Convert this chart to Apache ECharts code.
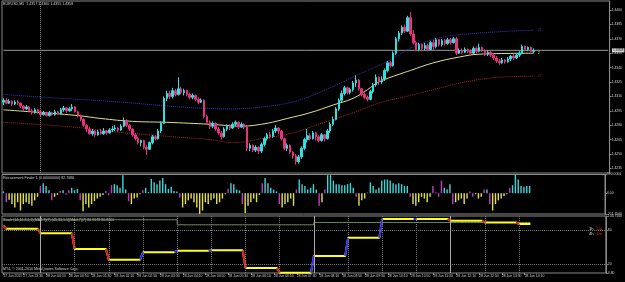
<!DOCTYPE html>
<html>
<head>
<meta charset="utf-8">
<script src="https://cdn.jsdelivr.net/npm/echarts@6/dist/echarts.min.js"></script>
<style>
  html, body { margin: 0; padding: 0; background: #000; }
  #chart { width: 625px; height: 282px; }
</style>
</head>
<body>
<div id="chart"></div>
<script>
const symbol = 'EURUSD,M5'
const slots = 212

// first bar is 27 Jun 22:55, M5 bars
const tickBars = [0, 7, 15, 23, 31, 39, 47, 55, 63, 71, 79, 87, 95, 103, 111, 119, 127, 135, 143, 151, 159, 167, 175, 183]
const tickLabels = ['27 Jun 2011', '27 Jun 23:30', '28 Jun 00:10', '28 Jun 00:50', '28 Jun 01:30', '28 Jun 02:10',
  '28 Jun 02:50', '28 Jun 03:30', '28 Jun 04:10', '28 Jun 04:50', '28 Jun 05:30', '28 Jun 06:10', '28 Jun 06:50',
  '28 Jun 07:30', '28 Jun 08:10', '28 Jun 08:50', '28 Jun 09:30', '28 Jun 10:10', '28 Jun 10:50', '28 Jun 11:30',
  '28 Jun 12:10', '28 Jun 12:50', '28 Jun 13:30', '28 Jun 14:10']
const priceTicks = [1.4235, 1.425, 1.4265, 1.428, 1.4295, 1.431, 1.4325, 1.434, 1.4355, 1.437, 1.4385, 1.44]

// [open, close, low, high]
const candles = [
  [1.4304,1.4306,1.4301,1.4308],[1.4306,1.4303,1.4302,1.4308],[1.4303,1.4305,1.4302,1.4307],[1.4305,1.4302,1.4300,1.4306],
  [1.4302,1.4304,1.4301,1.4306],[1.4304,1.4303,1.4301,1.4306],[1.4303,1.4300,1.4298,1.4304],[1.4300,1.4297,1.4295,1.4301],
  [1.4297,1.4299,1.4296,1.4301],[1.4299,1.4295,1.4294,1.4300],[1.4295,1.4293,1.4291,1.4297],[1.4293,1.4296,1.4292,1.4298],
  [1.4296,1.4294,1.4292,1.4297],[1.4294,1.4291,1.4289,1.4295],[1.4291,1.4293,1.4290,1.4295],[1.4293,1.4290,1.4289,1.4294],
  [1.4290,1.4293,1.4289,1.4295],[1.4293,1.4291,1.4290,1.4294],[1.4291,1.4294,1.4290,1.4296],[1.4294,1.4292,1.4291,1.4295],
  [1.4292,1.4296,1.4291,1.4298],[1.4296,1.4298,1.4294,1.4300],[1.4298,1.4295,1.4293,1.4299],[1.4295,1.4297,1.4294,1.4299],
  [1.4297,1.4299,1.4295,1.4302],[1.4299,1.4294,1.4293,1.4300],[1.4294,1.4290,1.4288,1.4295],[1.4290,1.4286,1.4284,1.4291],
  [1.4286,1.4280,1.4278,1.4287],[1.4280,1.4276,1.4273,1.4281],[1.4276,1.4271,1.4270,1.4278],[1.4271,1.4274,1.4269,1.4276],
  [1.4274,1.4270,1.4268,1.4275],[1.4270,1.4273,1.4269,1.4275],[1.4273,1.4271,1.4270,1.4276],[1.4271,1.4274,1.4270,1.4277],
  [1.4274,1.4272,1.4270,1.4275],[1.4272,1.4275,1.4271,1.4277],[1.4275,1.4276,1.4273,1.4279],[1.4276,1.4277,1.4274,1.4280],
  [1.4277,1.4275,1.4273,1.4278],[1.4275,1.4279,1.4274,1.4281],[1.4279,1.4285,1.4278,1.4288],[1.4285,1.4280,1.4278,1.4286],
  [1.4280,1.4276,1.4274,1.4281],[1.4276,1.4270,1.4268,1.4277],[1.4270,1.4266,1.4264,1.4272],[1.4266,1.4262,1.4260,1.4268],
  [1.4262,1.4264,1.4258,1.4265],[1.4264,1.4257,1.4255,1.4265],[1.4257,1.4255,1.4249,1.4259],[1.4255,1.4262,1.4254,1.4263],
  [1.4262,1.4268,1.4260,1.4270],[1.4268,1.4266,1.4264,1.4270],[1.4266,1.4274,1.4265,1.4276],[1.4274,1.4282,1.4272,1.4284],
  [1.4282,1.4308,1.4281,1.4310],[1.4308,1.4313,1.4305,1.4316],[1.4313,1.4310,1.4307,1.4316],[1.4310,1.4316,1.4308,1.4319],
  [1.4316,1.4312,1.4310,1.4318],[1.4312,1.4318,1.4311,1.4330],[1.4318,1.4314,1.4312,1.4320],[1.4314,1.4316,1.4311,1.4318],
  [1.4316,1.4312,1.4310,1.4317],[1.4312,1.4309,1.4307,1.4314],[1.4309,1.4311,1.4307,1.4313],[1.4311,1.4307,1.4305,1.4312],
  [1.4307,1.4304,1.4302,1.4309],[1.4304,1.4306,1.4303,1.4308],[1.4306,1.4289,1.4287,1.4307],[1.4289,1.4283,1.4281,1.4291],
  [1.4283,1.4279,1.4276,1.4285],[1.4279,1.4282,1.4277,1.4284],[1.4282,1.4276,1.4274,1.4283],[1.4276,1.4272,1.4270,1.4278],
  [1.4272,1.4268,1.4265,1.4274],[1.4268,1.4276,1.4267,1.4278],[1.4276,1.4279,1.4274,1.4281],[1.4279,1.4277,1.4275,1.4281],
  [1.4277,1.4281,1.4276,1.4283],[1.4281,1.4283,1.4279,1.4285],[1.4283,1.4278,1.4276,1.4284],[1.4278,1.4281,1.4277,1.4283],
  [1.4281,1.4278,1.4276,1.4282],[1.4278,1.4256,1.4253,1.4279],[1.4256,1.4259,1.4253,1.4261],[1.4259,1.4254,1.4252,1.4260],
  [1.4254,1.4257,1.4252,1.4259],[1.4257,1.4253,1.4250,1.4258],[1.4253,1.4260,1.4251,1.4262],[1.4260,1.4266,1.4258,1.4268],
  [1.4266,1.4270,1.4264,1.4272],[1.4270,1.4268,1.4266,1.4273],[1.4268,1.4274,1.4267,1.4276],[1.4274,1.4277,1.4272,1.4280],
  [1.4277,1.4274,1.4271,1.4278],[1.4274,1.4266,1.4264,1.4275],[1.4266,1.4256,1.4254,1.4267],[1.4256,1.4259,1.4253,1.4261],
  [1.4259,1.4252,1.4250,1.4260],[1.4252,1.4248,1.4245,1.4253],[1.4248,1.4242,1.4239,1.4250],[1.4242,1.4247,1.4240,1.4249],
  [1.4247,1.4256,1.4245,1.4258],[1.4256,1.4265,1.4254,1.4267],[1.4265,1.4269,1.4262,1.4276],[1.4269,1.4266,1.4264,1.4272],
  [1.4266,1.4272,1.4265,1.4274],[1.4272,1.4268,1.4264,1.4273],[1.4268,1.4264,1.4262,1.4270],[1.4264,1.4270,1.4263,1.4272],
  [1.4270,1.4266,1.4263,1.4271],[1.4266,1.4274,1.4265,1.4276],[1.4274,1.4281,1.4272,1.4283],[1.4281,1.4286,1.4279,1.4289],
  [1.4286,1.4297,1.4285,1.4299],[1.4297,1.4306,1.4295,1.4308],[1.4306,1.4313,1.4304,1.4316],[1.4313,1.4319,1.4311,1.4321],
  [1.4319,1.4314,1.4312,1.4320],[1.4314,1.4317,1.4312,1.4319],[1.4317,1.4324,1.4315,1.4326],[1.4324,1.4327,1.4320,1.4332],
  [1.4327,1.4318,1.4316,1.4328],[1.4318,1.4312,1.4310,1.4319],[1.4312,1.4309,1.4307,1.4314],[1.4309,1.4307,1.4305,1.4311],
  [1.4307,1.4315,1.4306,1.4317],[1.4315,1.4322,1.4313,1.4324],[1.4322,1.4330,1.4320,1.4333],[1.4330,1.4325,1.4322,1.4331],
  [1.4325,1.4328,1.4323,1.4331],[1.4328,1.4337,1.4326,1.4339],[1.4337,1.4345,1.4335,1.4347],[1.4345,1.4342,1.4340,1.4347],
  [1.4342,1.4355,1.4341,1.4357],[1.4355,1.4370,1.4353,1.4372],[1.4370,1.4376,1.4367,1.4378],[1.4376,1.4382,1.4374,1.4384],
  [1.4382,1.4378,1.4376,1.4385],[1.4378,1.4392,1.4377,1.4394],[1.4392,1.4375,1.4373,1.4398],[1.4375,1.4366,1.4364,1.4379],
  [1.4366,1.4359,1.4357,1.4368],[1.4359,1.4364,1.4357,1.4366],[1.4364,1.4360,1.4357,1.4365],[1.4360,1.4363,1.4358,1.4366],
  [1.4363,1.4359,1.4357,1.4365],[1.4359,1.4366,1.4358,1.4368],[1.4366,1.4362,1.4358,1.4369],[1.4362,1.4369,1.4360,1.4371],
  [1.4369,1.4364,1.4362,1.4370],[1.4364,1.4368,1.4362,1.4370],[1.4368,1.4365,1.4363,1.4370],[1.4365,1.4369,1.4364,1.4371],
  [1.4369,1.4366,1.4364,1.4371],[1.4366,1.4370,1.4365,1.4372],[1.4370,1.4355,1.4353,1.4372],[1.4355,1.4358,1.4354,1.4360],
  [1.4358,1.4356,1.4354,1.4360],[1.4356,1.4359,1.4355,1.4361],[1.4359,1.4357,1.4355,1.4360],[1.4357,1.4355,1.4354,1.4359],
  [1.4355,1.4360,1.4354,1.4362],[1.4360,1.4357,1.4355,1.4362],[1.4357,1.4361,1.4356,1.4365],[1.4361,1.4358,1.4356,1.4362],
  [1.4358,1.4354,1.4352,1.4359],[1.4354,1.4356,1.4352,1.4358],[1.4356,1.4353,1.4351,1.4357],[1.4353,1.4350,1.4348,1.4355],
  [1.4350,1.4347,1.4345,1.4352],[1.4347,1.4345,1.4343,1.4349],[1.4345,1.4348,1.4344,1.4350],[1.4348,1.4346,1.4344,1.4349],
  [1.4346,1.4349,1.4345,1.4351],[1.4349,1.4352,1.4347,1.4353],[1.4352,1.4350,1.4348,1.4354],[1.4350,1.4353,1.4349,1.4355],
  [1.4353,1.4355,1.4351,1.4357],[1.4355,1.4362,1.4354,1.4364],[1.4362,1.4359,1.4357,1.4363],[1.4359,1.4361,1.4357,1.4362],
  [1.4361,1.4357,1.4356,1.4362],[1.4357,1.4358,1.4355,1.4360]
]

// moving averages read at [bar, price]
const maBlue = [[0, 1.4312], [20, 1.4308], [41, 1.4304], [62, 1.4299], [79, 1.4297], [93, 1.4300], [103, 1.4306],
  [114, 1.4319], [124, 1.4333], [135, 1.4348], [142, 1.4360], [152, 1.4371], [166, 1.4376], [185, 1.4379]]
const maYellow = [[0, 1.4296], [14, 1.4293], [26, 1.4290], [34, 1.4287], [45, 1.4284], [57, 1.4283], [72, 1.4281],
  [83, 1.4279], [92, 1.4282], [99, 1.4287], [107, 1.4293], [115, 1.4301], [122, 1.4308], [127, 1.4317], [131, 1.4325],
  [138, 1.4333], [142, 1.4337], [150, 1.4345], [159, 1.4351], [166, 1.4354], [185, 1.4355]]
const maRed = [[0, 1.4283], [16, 1.4280], [28, 1.4277], [39, 1.4273], [51, 1.4270], [59, 1.4268], [72, 1.4265],
  [80, 1.4262], [92, 1.4267], [101, 1.4272], [111, 1.4282], [123, 1.4294], [131, 1.4303], [142, 1.4311], [150, 1.4317],
  [161, 1.4325], [173, 1.4330], [185, 1.4331]]

const retrace = [
  18, -92, -66, -110, -146, -92, -176, -110, -92, -110, -128, -73, -37, 73, 102, 73, 29, -73, -37, -18,
  22, 29, -15, 29, 55, 29, 44, -73, -183, -110, -146, -110, -81, -55, -37, -18, 22, -22, 81, 92,
  81, 55, 183, 37, -81, -110, -55, -44, -11, 29, 55, 11, 146, 110, 92, 128, 154, 92, 44, 66,
  22, 18, -44, -146, -110, -73, -55, -92, -146, -211.75, -176, -92, -110, -73, -55, -110, -92, -55, -11, 44,
  102, 92, 37, 29, -110, -201, -128, -92, -55, -92, -18, 102, 154, 102, 55, 37, 18, -110, -146, -110,
  -92, -55, -128, 37, 139, 92, 73, 37, 55, 92, 37, -128, -92, 37, 183, 183, 128, 92, 92, 81,
  81, 92, 102, 55, -37, -128, -73, -55, 7, 110, 73, 37, 55, 128, 139, 139, 128, 102, 92, 102,
  92, 73, 73, -37, -110, -128, -92, -37, -55, -92, -37, 73, 7, -37, 128, 55, 37, 92, -110, -92,
  -73, -55, -110, -55, 18, -37, -11, -55, -37, 37, 37, -110, -176, -110, -73, -55, -29, -11, 55, 81,
  190, 139, 73, 66, 73, 73
]

// stochastic levels: one per hour (22h .. 14h), slow line one per 4 hours
const stochHourLevels = [87.6, 82.3, 74.7, 47.0, 28.1, 41.2, 44.0, 44.6, 13.5, 5.2, 34.7, 66.4, 99.4, 99.7, 96.4, 93.4, 90.6]
const stochH4Levels = [98.2, 98.2, 89.3, 93.4, 93.4]
const hourBars = [13, 25, 37, 49, 61, 73, 85, 97, 109, 121, 133, 145, 157, 169, 181]
const sessionBars = [13, 109, 157]

const categories = Array.from({ length: slots }, (_, i) => String(i))
const last = candles[candles.length - 1]
const stochMain = candles.map((_, i) => stochHourLevels[Math.floor((i + 11) / 12)])
const stochSignal = candles.map((_, i) => stochH4Levels[Math.floor((i + 35) / 48)])
const stochDown = stochMain.map(() => null)
const stochUp = stochMain.map(() => null)
for (let i = 1; i < stochMain.length; i++) {
  const seg = stochMain[i] < stochMain[i - 1] ? stochDown : stochMain[i] > stochMain[i - 1] ? stochUp : null
  if (seg) {
    seg[i - 1] = stochMain[i - 1]
    seg[i] = stochMain[i]
  }
}

const font = 'Liberation Sans'
const txt = '#d0d0d0'
const frame = '#8a8a8a'

const xBase = (gi, labels) => ({
  type: 'category',
  gridIndex: gi,
  data: categories,
  boundaryGap: true,
  axisLine: { show: false },
  axisTick: labels ? {
    show: true, alignWithLabel: true, length: 2, lineStyle: { color: frame },
    interval: (i) => tickBars.includes(i),
  } : { show: false },
  axisLabel: labels ? {
    show: true,
    interval: (i) => tickBars.includes(i),
    formatter: (v, i) => tickLabels[tickBars.indexOf(i)] || '',
    color: txt, fontSize: 3.4, fontFamily: font, align: 'left', margin: 2,
  } : { show: false },
  splitLine: { show: false },
})

const yBase = (gi, min, max, ticks, fmt) => ({
  type: 'value',
  gridIndex: gi,
  position: 'right',
  min, max,
  axisLine: { show: true, lineStyle: { color: frame } },
  axisTick: { show: true, length: 2, customValues: ticks, lineStyle: { color: frame } },
  axisLabel: { show: true, customValues: ticks, formatter: fmt, color: txt, fontSize: 3.4, fontFamily: font, margin: 2 },
  splitLine: { show: false },
})

const histColor = (p) => {
  const v = retrace[p.dataIndex]
  const prev = p.dataIndex > 0 ? retrace[p.dataIndex - 1] : v
  if ((v >= 0) !== (prev >= 0)) return '#c23bc2'
  return v >= 0 ? '#3fd2d2' : '#e2e04a'
}

const hourLines = hourBars.map((b) => ({
  xAxis: String(b),
  lineStyle: sessionBars.includes(b)
    ? { color: '#a8a8a8', type: 'solid', width: 1 }
    : { color: '#7a7a7a', type: 'dotted', width: 1 },
}))

const maLine = (data, color, type, label) => ({
  type: 'line',
  xAxisIndex: 0,
  yAxisIndex: 0,
  data,
  smooth: 0.4,
  showSymbol: false,
  silent: true,
  lineStyle: { color, width: 1, type },
  endLabel: { show: true, formatter: label, color, fontSize: 3.6, fontFamily: font, distance: 4 },
  z: 3,
})

const option = {
  backgroundColor: '#000',
  animation: false,
  grid: [
    { left: 2, right: 14, top: 1, height: 172, show: true, borderColor: frame, borderWidth: 1 },
    { left: 2, right: 14, top: 174.5, height: 39.5, show: true, borderColor: frame, borderWidth: 1 },
    { left: 2, right: 14, top: 216, height: 57, show: true, borderColor: frame, borderWidth: 1 },
  ],
  xAxis: [xBase(0, false), xBase(1, false), xBase(2, true)],
  yAxis: [
    yBase(0, 1.42302, 1.44094, priceTicks, (v) => v.toFixed(4)),
    yBase(1, -211.75, 190, [190, 0, -211.75], (v) => (v === 0 ? '0.00' : v.toFixed(4))),
    yBase(2, 4.8, 104.75, [104.75, 80, 20, 4.8], (v) => (v === 80 || v === 20 ? String(v) : v === 4.8 ? '4.80' : v.toFixed(4))),
  ],
  series: [
    {
      // bid line across the whole panel
      type: 'line',
      xAxisIndex: 0,
      yAxisIndex: 0,
      data: [[0, last[1]], [slots - 1, last[1]]],
      showSymbol: false,
      silent: true,
      lineStyle: { color: '#9a9a9a', width: 1 },
      z: 1,
    },
    {
      type: 'candlestick',
      xAxisIndex: 0,
      yAxisIndex: 0,
      data: candles,
      barWidth: '70%',
      silent: true,
      itemStyle: {
        color: '#33e0e0', color0: '#e8337e',
        borderColor: '#33e0e0', borderColor0: '#e8337e', borderWidth: 1,
      },
      markLine: {
        symbol: 'none',
        silent: true,
        label: { show: false },
        data: [{ xAxis: '13', lineStyle: { color: '#8a8a8a', type: 'dotted', width: 1 } }],
      },
      z: 4,
    },
    maLine(maBlue, '#3434c8', 'dotted', '21'),
    maLine(maYellow, '#e2e28e', 'solid', '2'),
    maLine(maRed, '#b02424', 'dotted', '27'),
    {
      type: 'bar',
      xAxisIndex: 1,
      yAxisIndex: 1,
      data: retrace,
      barWidth: '50%',
      silent: true,
      itemStyle: { color: histColor },
    },
    {
      type: 'line',
      xAxisIndex: 2,
      yAxisIndex: 2,
      data: stochSignal,
      step: 'end',
      showSymbol: false,
      silent: true,
      lineStyle: { color: '#6f8f66', width: 1 },
      markLine: {
        symbol: 'none',
        silent: true,
        label: { show: false },
        data: [
          { yAxis: 80, lineStyle: { color: '#7a7a7a', type: 'dotted', width: 1 } },
          { yAxis: 20, lineStyle: { color: '#7a7a7a', type: 'dotted', width: 1 } },
          ...hourLines,
        ],
      },
    },
    {
      type: 'line',
      xAxisIndex: 2,
      yAxisIndex: 2,
      data: stochMain,
      showSymbol: false,
      silent: true,
      lineStyle: { color: '#ffff20', width: 2 },
      z: 3,
    },
    {
      type: 'line',
      xAxisIndex: 2,
      yAxisIndex: 2,
      data: stochDown,
      showSymbol: false,
      silent: true,
      lineStyle: { color: '#e01818', width: 2 },
      z: 4,
    },
    {
      type: 'line',
      xAxisIndex: 2,
      yAxisIndex: 2,
      data: stochUp,
      showSymbol: false,
      silent: true,
      lineStyle: { color: '#2a2aff', width: 2 },
      z: 4,
    },
  ],
  graphic: [
    {
      type: 'text', left: 3, top: 2,
      style: { text: `${symbol}  ${last[0].toFixed(4)} ${last[3].toFixed(4)} ${last[2].toFixed(4)} ${last[1].toFixed(4)}`, fill: txt, fontSize: 3.6, fontFamily: font },
    },
    {
      type: 'text', left: 3, top: 176,
      style: { text: 'Retracement Finder 1 (0.00000000) 82.7086', fill: txt, fontSize: 3.6, fontFamily: font },
    },
    {
      type: 'text', left: 3, top: 218,
      style: { text: 'Stoch (14,14,3,1,1)(MA4,7)(7) (45,33,1,1)(MA4,7)(7) 80.9678 80.8000', fill: txt, fontSize: 3.6, fontFamily: font },
    },
    {
      type: 'text', left: 3, top: 267,
      style: { text: 'MT4, \u00a9 2001-2010 MetaQuotes Software Corp.', fill: txt, fontSize: 3.6, fontFamily: font },
    },
    {
      type: 'text', left: 589, top: 223,
      style: {
        text: '{a|1h} {b|Dn}\n{a|4h} {b|Dn}', fontFamily: font, lineHeight: 5,
        rich: { a: { fill: '#d8d8d8', fontSize: 4.2 }, b: { fill: '#e02020', fontSize: 4.2 } },
      },
    },
  ],
}

const chart = echarts.init(document.getElementById('chart'), null, { renderer: 'canvas' })
chart.setOption(option)

// bid price box on the price scale, placed through the axis
const bidY = chart.convertToPixel({ yAxisIndex: 0 }, last[1])
chart.setOption({
  graphic: [
    {
      id: 'bidBox', type: 'text', x: 612, y: bidY, z: 100,
      style: {
        text: last[1].toFixed(4), fill: '#000', fontSize: 3.4, fontFamily: font,
        backgroundColor: '#d8d8d8', padding: [0.5, 1], verticalAlign: 'middle',
      },
    },
  ],
})
</script>
</body>
</html>
